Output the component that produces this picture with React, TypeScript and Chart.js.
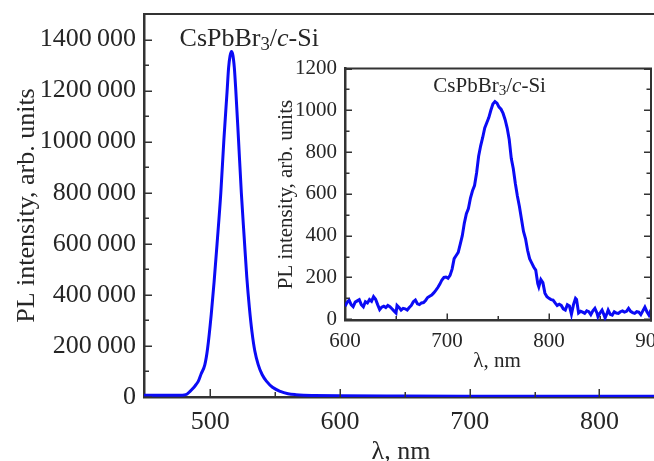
import React, { useEffect, useRef } from "react";
import { Chart, registerables } from "chart.js";

Chart.register(...registerables);

// ---------- data ----------
const mainWavelength = [
  449, 460, 470, 476, 480, 482, 484.5, 487, 489, 490.8, 493, 495.9, 498, 500.8,
  503, 505.3, 508.2, 510.6, 513, 514.2, 515.3, 516.4, 517.5, 518.6, 519.7, 521.8,
  524, 526.2, 528.2, 530.2, 532.2, 534.4, 537, 540, 543.5, 548, 554, 560,
  566, 572, 580, 600, 650, 700, 750, 800, 842,
];
const mainIntensity = [
  7000, 7000, 7000, 7200, 8000, 11000, 22000, 35000, 48000, 61000, 90000, 127000,
  190000, 323000, 450000, 600000, 800000, 1011000, 1195000, 1290000, 1335000,
  1353000, 1338000, 1290000, 1205000, 1011000, 800000, 625000, 470000, 350000,
  255000, 180000, 127000, 88000, 61000, 38000, 22000, 13000, 9000, 7000, 6000,
  4500, 3500, 3000, 3000, 3000, 3000,
];

const insetWavelength = [
  600, 602, 604, 606, 608, 610, 612, 614, 616, 618, 620, 622, 624, 626, 628, 630,
  632, 634, 636, 638, 640, 642, 644, 646, 648, 650, 651, 653, 655, 657, 659, 661,
  663, 665, 667, 669, 671, 673, 675, 677, 679, 681, 683, 685, 687, 689, 691, 693,
  695, 697, 699, 701, 703, 705, 707, 709, 711, 713, 715, 717, 719, 721, 723, 725,
  727, 729, 731, 733, 735, 737, 739, 741, 743, 745, 747, 749, 751, 753, 755, 757,
  759, 761, 763, 765, 767, 769, 771, 773, 775, 777, 779, 781, 783, 785, 787, 789,
  790, 792, 794, 796, 798, 800, 802, 804, 806, 808, 810, 812, 814, 816, 818, 820,
  822, 824, 826, 827, 829, 831, 833, 835, 837, 839, 841, 843, 845, 847, 848, 850,
  852, 854, 855, 857, 858, 860, 862, 864, 866, 868, 870, 872, 874, 876, 878, 880,
  882, 884, 886, 888, 890, 892, 894, 896, 898, 900, 902,
];
const insetIntensity = [
  62, 80, 92, 70, 60, 82, 88, 94, 70, 60, 84, 78, 94, 86, 108, 96,
  70, 46, 58, 62, 56, 66, 60, 50, 40, 30, 66, 56, 44, 52, 50, 44,
  56, 66, 84, 92, 74, 70, 78, 80, 90, 104, 110, 116, 126, 138, 152, 168,
  188, 200, 202, 196, 210, 240, 290, 305, 320, 360, 400, 460, 505, 530, 580, 615,
  640, 700, 780, 830, 870, 915, 940, 965, 1000, 1030, 1042, 1034, 1015, 1005, 985, 955,
  915, 860, 770, 720, 650, 590, 540, 480, 420, 385, 330, 290, 270, 250, 235, 170,
  155, 190, 175, 125, 108, 100, 94, 92, 78, 66, 72, 66, 50, 44, 70, 64,
  24, 70, 100, 95, 30, 38, 34, 28, 40, 36, 22, 40, 52, 30, 12, 30,
  44, 20, 6, 30, 44, 24, 20, 36, 30, 28, 36, 40, 34, 38, 52, 38,
  32, 28, 36, 34, 22, 40, 58, 36, 20, 45, 30,
];

const mainXTicks = [500, 600, 700, 800];
const mainXMinorTicks = [550, 650, 750];
const mainYTicks = [0, 200000, 400000, 600000, 800000, 1000000, 1200000, 1400000];
const mainYTickLabels = [
  "0",
  "200\u2009000",
  "400\u2009000",
  "600\u2009000",
  "800\u2009000",
  "1000\u2009000",
  "1200\u2009000",
  "1400\u2009000",
];
const mainYMinorTicks = [100000, 300000, 500000, 700000, 900000, 1100000, 1300000];

const insetXTicks = [600, 700, 800, 900];
const insetXMinorTicks = [650, 750, 850];
const insetYTicks = [0, 200, 400, 600, 800, 1000, 1200];
const insetYTickLabels = ["0", "200", "400", "600", "800", "1000", "1200"];
const insetYMinorTicks = [100, 300, 500, 700, 900, 1100];

const yTitle = "PL intensity, arb. units";
const xTitle = "λ, nm";
// sample name pieces: [text, style]
const sampleName: [string, string][] = [
  ["CsPbBr", "normal"],
  ["3", "sub"],
  ["/", "normal"],
  ["c", "italic"],
  ["-Si", "normal"],
];

// ---------- styling ----------
const FONT = '"Liberation Serif", "Times New Roman", serif';
const INK = "#262626";
const AXIS = "#333333";
const CURVE = "#0b0bf5";

function drawSample(ctx: CanvasRenderingContext2D, x: number, y: number, size: number) {
  ctx.save();
  ctx.fillStyle = INK;
  ctx.textAlign = "left";
  ctx.textBaseline = "alphabetic";
  let cx = x;
  for (const [t, st] of sampleName) {
    let fs = size;
    let dy = 0;
    let style = "";
    if (st === "sub") {
      fs = size * 0.72;
      dy = size * 0.17;
    } else if (st === "italic") {
      style = "italic ";
    }
    ctx.font = `${style}${fs}px ${FONT}`;
    ctx.fillText(t, cx, y + dy);
    cx += ctx.measureText(t).width;
  }
  ctx.restore();
}

type FrameCfg = {
  xMajor: number[];
  xMinor: number[];
  yMajor: number[];
  yMinor: number[];
  majorLen: number;
  minorLen: number;
  ySides: ("left" | "right")[];
  frame: ("top" | "right")[];
  frameWidth: number;
  titleSize: number;
  yTitleBaselineX: number;
  xTitleBaselineY: number;
  xTitleShift: number;
  sampleSize: number;
  sampleAt: [number, number];
};

function makeFramePlugin(cfg: FrameCfg) {
  return {
    id: "frameTicks",
    afterDraw(chart: any) {
      const ctx: CanvasRenderingContext2D = chart.ctx;
      const { left, right, top, bottom } = chart.chartArea;
      const xs = chart.scales.x;
      const ys = chart.scales.y;
      ctx.save();
      ctx.strokeStyle = AXIS;
      // frame
      ctx.lineWidth = cfg.frameWidth;
      ctx.beginPath();
      if (cfg.frame.includes("top")) {
        ctx.moveTo(left - 1, top);
        ctx.lineTo(right, top);
      }
      if (cfg.frame.includes("right")) {
        ctx.moveTo(right, top - 1);
        ctx.lineTo(right, bottom + 1);
      }
      ctx.stroke();
      // ticks (inward)
      ctx.lineWidth = 1.5;
      ctx.beginPath();
      const xt = (vals: number[], len: number) => {
        for (const v of vals) {
          const px = Math.round(xs.getPixelForValue(v)) + 0.25;
          ctx.moveTo(px, bottom);
          ctx.lineTo(px, bottom - len);
        }
      };
      const yt = (vals: number[], len: number) => {
        for (const v of vals) {
          const py = Math.round(ys.getPixelForValue(v)) + 0.25;
          if (cfg.ySides.includes("left")) {
            ctx.moveTo(left, py);
            ctx.lineTo(left + len, py);
          }
          if (cfg.ySides.includes("right")) {
            ctx.moveTo(right, py);
            ctx.lineTo(right - len, py);
          }
        }
      };
      xt(cfg.xMajor, cfg.majorLen);
      xt(cfg.xMinor, cfg.minorLen);
      yt(cfg.yMajor, cfg.majorLen);
      yt(cfg.yMinor, cfg.minorLen);
      ctx.stroke();
      // axis titles
      ctx.fillStyle = INK;
      ctx.font = `${cfg.titleSize}px ${FONT}`;
      ctx.textAlign = "center";
      ctx.textBaseline = "alphabetic";
      ctx.fillText(xTitle, (left + right) / 2 + cfg.xTitleShift, cfg.xTitleBaselineY);
      ctx.save();
      ctx.translate(cfg.yTitleBaselineX, (top + bottom) / 2);
      ctx.rotate(-Math.PI / 2);
      ctx.fillText(yTitle, 0, 0);
      ctx.restore();
      // sample label
      const sx = xs.getPixelForValue(cfg.sampleAt[0]);
      const sy = ys.getPixelForValue(cfg.sampleAt[1]);
      drawSample(ctx, sx, sy, cfg.sampleSize);
      ctx.restore();
    },
  };
}

function pts(xs: number[], ys: number[]) {
  return xs.map((x, i) => ({ x, y: ys[i] }));
}

export default function App() {
  const mainRef = useRef<HTMLCanvasElement>(null);
  const insetRef = useRef<HTMLCanvasElement>(null);

  useEffect(() => {
    const tickFont26 = { family: FONT, size: 26 };
    const tickFont21 = { family: FONT, size: 21 };

    const main = new Chart(mainRef.current as HTMLCanvasElement, {
      type: "scatter",
      data: {
        datasets: [
          {
            data: pts(mainWavelength, mainIntensity),
            showLine: true,
            borderColor: CURVE,
            borderWidth: 3,
            pointRadius: 0,
            cubicInterpolationMode: "monotone",
            fill: false,
          } as any,
        ],
      },
      options: {
        responsive: false,
        animation: false,
        layout: { padding: { top: 14, right: 0, bottom: 0, left: 0 } },
        plugins: { legend: { display: false }, tooltip: { enabled: false } },
        scales: {
          x: {
            type: "linear",
            min: 449,
            max: 842,
            afterBuildTicks: (s: any) => {
              s.ticks = mainXTicks.map((v) => ({ value: v }));
            },
            afterFit: (s: any) => {
              s.height = 64;
              s.paddingLeft = 0;
              s.paddingRight = 0;
            },
            ticks: {
              font: tickFont26,
              color: INK,
              padding: 10,
              autoSkip: false,
              maxRotation: 0,
              callback: (v: any) => String(v),
            },
            grid: { display: false, drawTicks: false },
            border: { display: true, color: AXIS, width: 2.5 },
          },
          y: {
            type: "linear",
            min: 0,
            max: 1500000,
            afterBuildTicks: (s: any) => {
              s.ticks = mainYTicks.map((v) => ({ value: v }));
            },
            afterFit: (s: any) => {
              s.width = 144;
              s.paddingTop = 0;
              s.paddingBottom = 0;
            },
            ticks: {
              font: tickFont26,
              color: INK,
              padding: 8,
              autoSkip: false,
              callback: (_v: any, i: number) => mainYTickLabels[i],
            },
            grid: { display: false, drawTicks: false },
            border: { display: true, color: AXIS, width: 2.5 },
          },
        },
      } as any,
      plugins: [
        makeFramePlugin({
          xMajor: mainXTicks,
          xMinor: mainXMinorTicks,
          yMajor: mainYTicks,
          yMinor: mainYMinorTicks,
          majorLen: 8,
          minorLen: 5,
          ySides: ["left"],
          frame: ["top"],
          frameWidth: 2,
          titleSize: 26,
          yTitleBaselineX: 33.5,
          xTitleBaselineY: 459,
          xTitleShift: 2,
          sampleSize: 26,
          sampleAt: [476.4, 1376000],
        }) as any,
      ],
    });

    const inset = new Chart(insetRef.current as HTMLCanvasElement, {
      type: "scatter",
      data: {
        datasets: [
          {
            data: pts(insetWavelength, insetIntensity),
            showLine: true,
            borderColor: CURVE,
            borderWidth: 3,
            pointRadius: 0,
            tension: 0,
            fill: false,
          } as any,
        ],
      },
      options: {
        responsive: false,
        animation: false,
        layout: { padding: { top: 8.5, right: 3, bottom: 0, left: 0 } },
        plugins: { legend: { display: false }, tooltip: { enabled: false } },
        scales: {
          x: {
            type: "linear",
            min: 600,
            max: 900,
            afterBuildTicks: (s: any) => {
              s.ticks = insetXTicks.map((v) => ({ value: v }));
            },
            afterFit: (s: any) => {
              s.height = 54.5;
              s.paddingLeft = 0;
              s.paddingRight = 0;
            },
            ticks: {
              font: tickFont21,
              color: INK,
              padding: 8,
              autoSkip: false,
              maxRotation: 0,
              callback: (v: any) => String(v),
            },
            grid: { display: false, drawTicks: false },
            border: { display: true, color: AXIS, width: 2.5 },
          },
          y: {
            type: "linear",
            min: -6,
            max: 1200,
            afterBuildTicks: (s: any) => {
              s.ticks = insetYTicks.map((v) => ({ value: v }));
            },
            afterFit: (s: any) => {
              s.width = 75;
              s.paddingTop = 0;
              s.paddingBottom = 0;
            },
            ticks: {
              font: tickFont21,
              color: INK,
              padding: 8,
              autoSkip: false,
              callback: (_v: any, i: number) => insetYTickLabels[i],
            },
            grid: { display: false, drawTicks: false },
            border: { display: true, color: AXIS, width: 2.5 },
          },
        },
      } as any,
      plugins: [
        makeFramePlugin({
          xMajor: insetXTicks,
          xMinor: insetXMinorTicks,
          yMajor: insetYTicks,
          yMinor: insetYMinorTicks,
          majorLen: 7,
          minorLen: 4.5,
          ySides: ["left", "right"],
          frame: ["top", "right"],
          frameWidth: 2,
          titleSize: 21,
          yTitleBaselineX: 21.5,
          xTitleBaselineY: 306.5,
          xTitleShift: -1,
          sampleSize: 21,
          sampleAt: [686.6, 1089],
        }) as any,
      ],
    });

    return () => {
      main.destroy();
      inset.destroy();
    };
  }, []);

  return (
    <div
      style={{
        position: "absolute",
        left: 0,
        top: 0,
        width: 654,
        height: 461,
        background: "#ffffff",
        overflow: "hidden",
      }}
    >
      <canvas
        ref={mainRef}
        width={654}
        height={461}
        style={{ position: "absolute", left: 0, top: 0, width: 654, height: 461 }}
      />
      <canvas
        ref={insetRef}
        width={384}
        height={315}
        style={{ position: "absolute", left: 270, top: 60, width: 384, height: 315 }}
      />
    </div>
  );
}
